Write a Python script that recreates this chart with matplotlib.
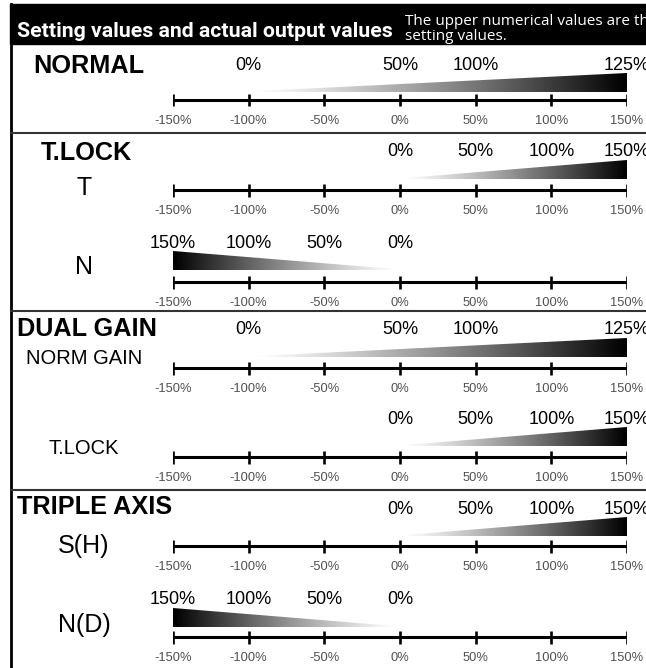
import numpy as np
import matplotlib
matplotlib.use("Agg")
import matplotlib.pyplot as plt
from matplotlib.patches import Polygon

W, H = 646, 668

# output scale under every bar
axis_ticks = [-150, -100, -50, 0, 50, 100, 150]

# setting values (upper labels) and the output value each one sits on
normal_set = [0, 50, 100, 125]
normal_out = [-100, 0, 50, 150]
tlock_t_set = [0, 50, 100, 150]
tlock_t_out = [0, 50, 100, 150]
tlock_n_set = [150, 100, 50, 0]
tlock_n_out = [-150, -100, -50, 0]
dual_norm_set = [0, 50, 100, 125]
dual_norm_out = [-100, 0, 50, 150]
dual_tlock_set = [0, 50, 100, 150]
dual_tlock_out = [0, 50, 100, 150]
triple_sh_set = [0, 50, 100, 150]
triple_sh_out = [0, 50, 100, 150]
triple_nd_set = [150, 100, 50, 0]
triple_nd_out = [-150, -100, -50, 0]

section_titles = ["NORMAL", "T.LOCK", "DUAL GAIN", "TRIPLE AXIS"]
row_names = ["", "T", "N", "NORM GAIN", "T.LOCK", "S(H)", "N(D)"]
row_sets = [normal_set, tlock_t_set, tlock_n_set, dual_norm_set,
            dual_tlock_set, triple_sh_set, triple_nd_set]
row_outs = [normal_out, tlock_t_out, tlock_n_out, dual_norm_out,
            dual_tlock_out, triple_sh_out, triple_nd_out]

# layout (pixels)
axis_y = [100, 190, 282, 368, 457, 546, 637]
wedge_gap = [8, 11, 12, 11, 11, 10, 10]
name_y = [0, 188, 267, 359, 448, 546, 625]
name_size = [0, 18, 18, 14.5, 14.5, 18, 18]
title_pos = [(33, 66), (41, 153), (17, 329), (17, 507)]
separators = [133, 311, 490]

fig = plt.figure(figsize=(W / 100, H / 100), dpi=100)
bg = fig.add_axes([0, 0, 1, 1])
bg.set_xlim(0, W)
bg.set_ylim(H, 0)
bg.axis("off")

# frame and header band
bg.add_patch(plt.Rectangle((10, 4), W, 40, color="black"))
bg.plot([11, 11], [4, H], color="black", lw=2.0)
for s in separators:
    bg.plot([11, W], [s, s], color="#333333", lw=1.5)

hdr = bg.text(17, 37, "Setting values and actual output values", color="white",
              fontsize=20, fontweight="bold", family="Roboto",
              va="baseline", ha="left")
fig.canvas.draw()
hdr.set_fontsize(20 * 375 / hdr.get_window_extent().width)
bg.text(405, 25, "The upper numerical values are the", color="white",
        fontsize=11, family="Open Sans", va="baseline", ha="left")
bg.text(405, 40, "setting values.", color="white",
        fontsize=11, family="Open Sans", va="baseline", ha="left")

for t, (x, y) in zip(section_titles, title_pos):
    bg.text(x, y, t, fontsize=18.2, fontweight="bold", family="Liberation Sans",
            va="center", ha="left")

for name, y, fs in zip(row_names, name_y, name_size):
    if name:
        bg.text(84, y, name, fontsize=fs, family="Liberation Sans",
                va="center", ha="center")

grad = np.linspace(0, 1, 256).reshape(1, -1) ** 1.2

for i in range(len(axis_y)):
    ay = axis_y[i]
    top, bot = 50, 30
    ax = fig.add_axes([173 / W, 1 - (ay + bot) / H, 454 / W, (top + bot) / H])
    ax.set_xlim(-150, 150)
    ax.set_ylim(bot, -top)
    ax.axis("off")

    # axis line with ticks
    ax.plot([-150, 150], [0, 0], color="black", lw=2.2, solid_capstyle="butt")
    ax.vlines(axis_ticks, -6.5, 6.5, color="black", lw=1.9)
    for v in axis_ticks:
        ax.text(v, 21, f"{v}%", fontsize=9.3, color="#505050",
                family="Liberation Sans", ha="center", va="center")

    # gradient wedge, thick end at the largest setting value
    sets, outs = row_sets[i], row_outs[i]
    g = wedge_gap[i]
    thin = outs[int(np.argmin(sets))]
    thick = outs[int(np.argmax(sets))]
    h = 19
    poly = Polygon([(thin, -g), (thick, -g), (thick, -g - h), (thin, -g - 0.6)],
                   closed=True, facecolor="none", edgecolor="none")
    ax.add_patch(poly)
    x0, x1 = min(thin, thick), max(thin, thick)
    img = grad if thick > thin else grad[:, ::-1]
    im = ax.imshow(img, cmap="gray_r", vmin=0, vmax=1, aspect="auto",
                   extent=[x0, x1, -g, -g - h], interpolation="bilinear")
    im.set_clip_path(poly)

    for sv, ov in zip(sets, outs):
        ax.text(ov, -g - h - 8, f"{sv}%", fontsize=13, color="black",
                family="Liberation Sans", ha="center", va="center", clip_on=False)

fig.savefig("out.png", dpi=100)
